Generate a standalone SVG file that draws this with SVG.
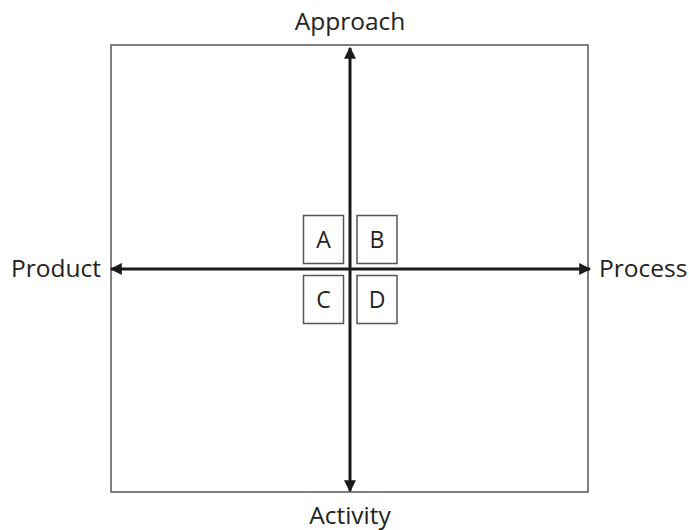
<svg xmlns="http://www.w3.org/2000/svg" width="689" height="530" viewBox="0 0 689 530">
  <style>
    .frame { fill: none; stroke: #555; stroke-width: 1.5; }
    .axis { stroke: #1a1a1a; stroke-width: 3; fill: none; }
    .box { fill: #fff; stroke: #555; stroke-width: 1.5; }
    .lbl { font-family: "Open Sans", "Liberation Sans", sans-serif; font-size: 24.5px; fill: #222; }
    .q { font-family: "Open Sans", "Liberation Sans", sans-serif; font-size: 23px; fill: #222; text-anchor: middle; }
  </style>
  <defs>
    <marker id="arrow" viewBox="0 0 10 10" refX="9" refY="5" markerWidth="4" markerHeight="4" orient="auto-start-reverse" markerUnits="strokeWidth">
      <path d="M0,0 L10,5 L0,10 z" fill="#1a1a1a"/>
    </marker>
  </defs>
  <rect class="frame" x="111" y="45" width="477" height="447"/>
  <g id="connectors">
    <line class="axis" x1="350" y1="491" x2="350" y2="48" marker-start="url(#arrow)" marker-end="url(#arrow)"/>
    <line class="axis" x1="111" y1="269" x2="590" y2="269" marker-start="url(#arrow)" marker-end="url(#arrow)"/>
  </g>
  <g id="A"><rect class="box" x="303.5" y="215.5" width="40" height="48"/><text class="q" x="323.5" y="248">A</text></g>
  <g id="B"><rect class="box" x="357" y="215.5" width="40" height="48"/><text class="q" x="377" y="248">B</text></g>
  <g id="C"><rect class="box" x="303.5" y="275.5" width="40" height="48"/><text class="q" x="323.5" y="308">C</text></g>
  <g id="D"><rect class="box" x="357" y="275.5" width="40" height="48"/><text class="q" x="377" y="308">D</text></g>
  <g id="approach"><text class="lbl" x="350" y="30" text-anchor="middle">Approach</text></g>
  <g id="activity"><text class="lbl" x="350" y="524" text-anchor="middle">Activity</text></g>
  <g id="product"><text class="lbl" x="101" y="277" text-anchor="end">Product</text></g>
  <g id="process"><text class="lbl" x="599" y="277">Process</text></g>
</svg>
